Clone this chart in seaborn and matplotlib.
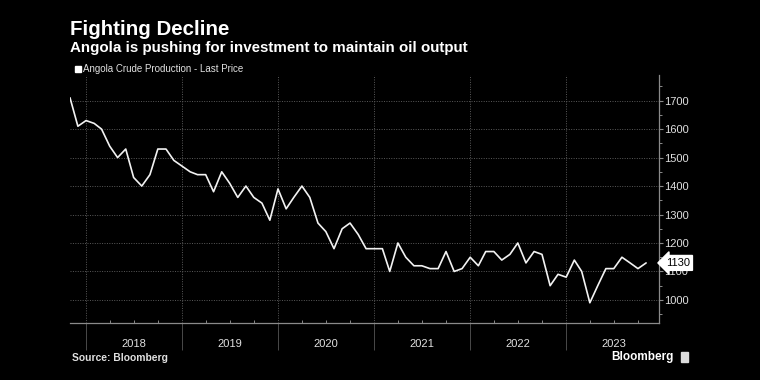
import matplotlib
matplotlib.use("Agg")
import matplotlib.pyplot as plt
import matplotlib.dates as mdates
import matplotlib.ticker as mticker
import matplotlib.transforms as mtransforms
import seaborn as sns
import pandas as pd

# ---- data (monthly, Nov 2017 .. Nov 2023), thousand barrels/day ----
start_month = "2017-11-01"
production = [
    1710, 1610, 1630, 1620, 1600, 1540, 1500, 1530, 1430, 1400, 1440, 1530,
    1530, 1490, 1470, 1450, 1440, 1440, 1380, 1450, 1410, 1360, 1400, 1360,
    1340, 1280, 1390, 1320, 1360, 1400, 1360, 1270, 1240, 1180, 1250, 1270,
    1230, 1180, 1180, 1180, 1100, 1200, 1150, 1120, 1120, 1110, 1110, 1170,
    1100, 1110, 1150, 1120, 1170, 1170, 1140, 1160, 1200, 1130, 1170, 1160,
    1050, 1090, 1080, 1140, 1100, 990, 1050, 1110, 1110, 1150, 1130, 1110,
    1130,
]
years = ["2018", "2019", "2020", "2021", "2022", "2023"]
y_ticks = [1000, 1100, 1200, 1300, 1400, 1500, 1600, 1700]
title = "Fighting Decline"
subtitle = "Angola is pushing for investment to maintain oil output"
series_name = "Angola Crude Production - Last Price"
source = "Source: Bloomberg"

dates = pd.date_range(start_month, periods=len(production), freq="MS")
df = pd.DataFrame({"date": dates, "value": production})

sns.set_theme(style="dark")
plt.rcParams["font.family"] = ["Liberation Sans", "DejaVu Sans"]

BG = "black"
GRID = "#5a5a5a"
AXC = "#8a8a8a"
TXT = "#e0e0e0"

fig = plt.figure(figsize=(7.6, 3.8), dpi=100, facecolor=BG)
ax = fig.add_axes([70 / 760, 1 - 323 / 380, (659 - 70) / 760, (323 - 75) / 380])
ax.set_facecolor(BG)

sns.lineplot(data=df, x="date", y="value", ax=ax, color="#f2f2f2",
             linewidth=1.2, legend=False)

ax.set_xlim(pd.Timestamp("2017-11-01"), pd.Timestamp("2023-12-20"))
ax.set_ylim(919, 1790)
ax.set_xlabel("")
ax.set_ylabel("")

# spines
for s in ["left", "top"]:
    ax.spines[s].set_visible(False)
for s in ["right", "bottom"]:
    ax.spines[s].set_visible(True)
    ax.spines[s].set_color(AXC)
    ax.spines[s].set_linewidth(0.9)

# y axis on right
ax.yaxis.tick_right()
ax.set_yticks(y_ticks)
ax.yaxis.set_minor_locator(mticker.MultipleLocator(50))
ax.tick_params(axis="y", which="major", direction="out", length=3, width=0.8,
               color=AXC, labelcolor=TXT, labelsize=8, pad=1,
               right=True, left=False)
ax.tick_params(axis="y", which="minor", direction="out", length=2, width=0.7,
               color=AXC, right=True, left=False)

# x axis: year boundaries as long ticks, quarters as small inward ticks
ax.xaxis.set_major_locator(mdates.YearLocator())
ax.xaxis.set_major_formatter(mticker.NullFormatter())
ax.xaxis.set_minor_locator(mdates.MonthLocator(bymonth=[4, 7, 10]))
ax.tick_params(axis="x", which="major", direction="out", length=19.5,
               width=0.7, color="#4a4a4a", bottom=True)
ax.tick_params(axis="x", which="minor", direction="in", length=2.5,
               width=0.7, color=AXC, bottom=True)

# grid
ax.grid(True, which="major", axis="both", color=GRID, linestyle=(0, (1, 1.5)),
        linewidth=0.7)
ax.grid(False, which="minor")

# year labels centred under each year
trans = mtransforms.blended_transform_factory(ax.transData, ax.transAxes)
for yr in years:
    ax.text(pd.Timestamp(f"{yr}-07-02"), -(344 - 323) / 248, yr,
            transform=trans, ha="center", va="center", color=TXT, fontsize=8)

# last value label
last = production[-1]
rtrans = mtransforms.blended_transform_factory(ax.transAxes, ax.transData)
ax.annotate(f"{last}", xy=(1.0, last), xycoords=rtrans,
            xytext=(1.0 + 7 / 589, last), textcoords=rtrans,
            ha="left", va="center", color="black", fontsize=8,
            bbox=dict(boxstyle="larrow,pad=0.22", fc="white", ec="white"),
            annotation_clip=False)

# titles & legend
fig.text(70 / 760, 1 - 35 / 380, title, color="white", fontsize=14.8,
         fontweight="bold", va="baseline")
fig.text(70 / 760, 1 - 52 / 380, subtitle, color="white", fontsize=10.9,
         fontweight="bold", va="baseline")
fig.patches.append(plt.Rectangle((75 / 760, 1 - 72 / 380), 6 / 760, 6 / 380,
                                 transform=fig.transFigure, color="white"))
fig.text(83 / 760, 1 - 69 / 380, series_name, color=TXT, fontsize=7,
         va="center")

# footer
fig.text(72 / 760, 1 - 358 / 380, source, color=TXT, fontsize=7.4,
         fontweight="bold", va="center")
fig.text(674 / 760, 1 - 357 / 380, "Bloomberg", color="white", fontsize=8.5,
         fontweight="bold", va="center", ha="right")
fig.patches.append(plt.Rectangle((681 / 760, 1 - 362 / 380), 7 / 760, 10 / 380,
                                 transform=fig.transFigure, color="#dddddd"))

fig.savefig("out.png", dpi=100, facecolor=BG)
